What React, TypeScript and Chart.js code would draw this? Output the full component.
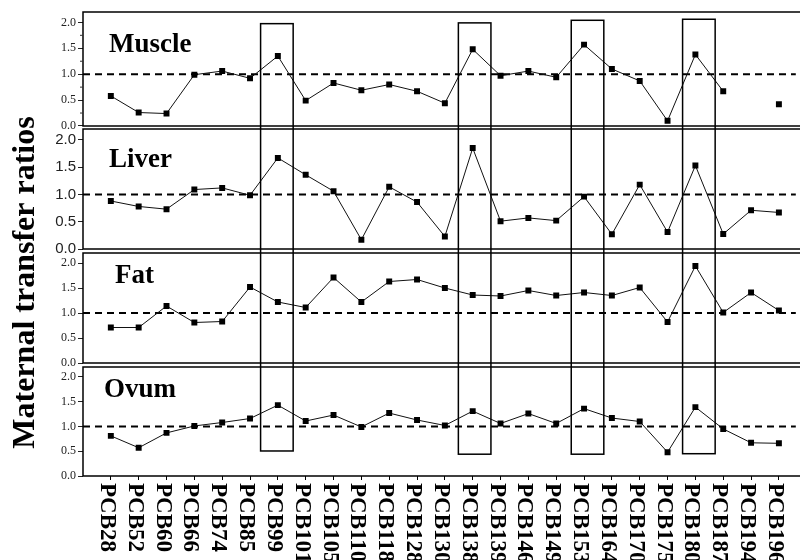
import React, { useEffect, useRef } from "react";
import { Chart, registerables } from "chart.js";

Chart.register(...registerables);

const categories = [
  "PCB28", "PCB52", "PCB60", "PCB66", "PCB74", "PCB85", "PCB99", "PCB101", "PCB105",
  "PCB110", "PCB118", "PCB128", "PCB130", "PCB138", "PCB139", "PCB146", "PCB149",
  "PCB153", "PCB164", "PCB170", "PCB175", "PCB180", "PCB187", "PCB194", "PCB196",
];

const muscle = [0.58, 0.26, 0.24, 0.99, 1.06, 0.92, 1.35, 0.49, 0.83, 0.69, 0.8, 0.67, 0.44, 1.48, 0.97, 1.06, 0.94, 1.57, 1.1, 0.87, 0.1, 1.38, 0.67, null, 0.42];
const liver = [0.88, 0.78, 0.73, 1.09, 1.12, 0.985, 1.67, 1.36, 1.06, 0.17, 1.14, 0.86, 0.23, 1.85, 0.51, 0.57, 0.52, 0.96, 0.27, 1.18, 0.31, 1.53, 0.275, 0.71, 0.67];
const fat = [0.71, 0.71, 1.14, 0.81, 0.83, 1.52, 1.22, 1.11, 1.71, 1.22, 1.63, 1.67, 1.5, 1.36, 1.34, 1.45, 1.35, 1.41, 1.35, 1.51, 0.82, 1.94, 1.01, 1.41, 1.05];
const ovum = [0.81, 0.57, 0.87, 1.01, 1.08, 1.16, 1.43, 1.11, 1.23, 0.99, 1.27, 1.13, 1.02, 1.31, 1.06, 1.26, 1.06, 1.36, 1.17, 1.1, 0.48, 1.39, 0.95, 0.67, 0.66];

const yTickValues = [0, 0.5, 1, 1.5, 2];
const muscleMinorTicks = [0.25, 0.75, 1.25, 1.75];
const referenceLevel = 1.0;

const highlighted = ["PCB99", "PCB138", "PCB153", "PCB180"];
const highlightShift = [-0.035, 0.07, 0.125, 0.125];
const highlightTop = [1.975, 1.99, 2.04, 2.06]; // Muscle units
const highlightBottom = [0.505, 0.44, 0.44, 0.45]; // Ovum units

const yTitle = "Maternal transfer ratios";

const SERIF = '"Liberation Serif", "Times New Roman", serif';
const SANS = '"Liberation Sans", Arial, sans-serif';

const panels = [
  { id: "yMuscle", label: "Muscle", values: muscle, min: -0.058, weight: 117, titleDx: 26, titleDy: 40, font: SERIF, size: 12 },
  { id: "yLiver", label: "Liver", values: liver, min: -0.0733, weight: 124, titleDx: 26, titleDy: 38, font: SANS, size: 15 },
  { id: "yFat", label: "Fat", values: fat, min: -0.08, weight: 114, titleDx: 32, titleDy: 30, font: SERIF, size: 12 },
  { id: "yOvum", label: "Ovum", values: ovum, min: 0, weight: 109, titleDx: 21, titleDy: 30, font: SERIF, size: 12 },
];

const decorPlugin = {
  id: "decor",
  afterDatasetsDraw(chart: any) {
    const ctx = chart.ctx as CanvasRenderingContext2D;
    const area = chart.chartArea;
    const xs = chart.scales.x;
    ctx.save();
    ctx.strokeStyle = "#000";
    ctx.lineWidth = 1.5;
    panels.forEach((p) => {
      const s = chart.scales[p.id];
      const top = s.getPixelForValue(2.2);
      const bot = s.getPixelForValue(0);
      ctx.beginPath();
      ctx.moveTo(area.right + 10, top);
      ctx.lineTo(area.left, top);
      ctx.lineTo(area.left, bot);
      ctx.lineTo(area.right + 10, bot);
      ctx.stroke();
      ctx.fillStyle = "#000";
      ctx.font = `bold 27px ${SERIF}`;
      ctx.textAlign = "left";
      ctx.textBaseline = "alphabetic";
      ctx.fillText(p.label, area.left + p.titleDx, top + p.titleDy);
    });
    // minor ticks on muscle
    const sm = chart.scales.yMuscle;
    ctx.lineWidth = 1;
    ctx.strokeStyle = "#333";
    muscleMinorTicks.forEach((v) => {
      const y = sm.getPixelForValue(v);
      ctx.beginPath();
      ctx.moveTo(area.left - 3, y);
      ctx.lineTo(area.left, y);
      ctx.stroke();
    });
    // highlight boxes
    const syTop = chart.scales.yMuscle;
    const syBot = chart.scales.yOvum;
    ctx.strokeStyle = "#000";
    ctx.lineWidth = 1.5;
    highlighted.forEach((name, k) => {
      const idx = categories.indexOf(name) + highlightShift[k];
      const x0 = xs.getPixelForValue(idx - 0.585);
      const x1 = xs.getPixelForValue(idx + 0.585);
      const y0 = syTop.getPixelForValue(highlightTop[k]);
      const y1 = syBot.getPixelForValue(highlightBottom[k]);
      ctx.strokeRect(x0, y0, x1 - x0, y1 - y0);
    });
    ctx.restore();
  },
  afterDraw(chart: any) {
    const ctx = chart.ctx as CanvasRenderingContext2D;
    const xs = chart.scales.x;
    ctx.save();
    ctx.fillStyle = "#000";
    // x labels rotated clockwise
    ctx.font = `bold 23px ${SERIF}`;
    ctx.textAlign = "left";
    ctx.textBaseline = "alphabetic";
    categories.forEach((c, i) => {
      const x = xs.getPixelForValue(i);
      ctx.save();
      ctx.translate(x - 10, xs.top + 7);
      ctx.rotate(Math.PI / 2);
      ctx.fillText(c, 0, 0);
      ctx.restore();
    });
    // y title
    ctx.font = `bold 32px ${SERIF}`;
    ctx.textAlign = "center";
    ctx.save();
    ctx.translate(34, 282.5);
    ctx.rotate(-Math.PI / 2);
    ctx.fillText(yTitle, 0, 0);
    ctx.restore();
    ctx.restore();
  },
};

export default function App() {
  const ref = useRef<HTMLCanvasElement | null>(null);
  useEffect(() => {
    if (!ref.current) return;
    const xMax = (800 - 83) / 28 - 1;
    const datasets: any[] = [];
    panels.forEach((p) => {
      datasets.push({
        label: p.label,
        data: p.values.map((v, i) => ({ x: i, y: v })),
        yAxisID: p.id,
        xAxisID: "x",
        borderColor: "#111",
        borderWidth: 1,
        backgroundColor: "#000",
        pointStyle: "rect",
        pointRadius: 4.2,
        pointBorderWidth: 0,
        pointBackgroundColor: "#000",
        spanGaps: false,
        tension: 0,
      });
      datasets.push({
        label: p.label + " ref",
        data: [
          { x: -1, y: referenceLevel },
          { x: 30, y: referenceLevel },
        ],
        yAxisID: p.id,
        xAxisID: "x",
        borderColor: "#000",
        borderWidth: 2,
        borderDash: [7, 5],
        pointRadius: 0,
        tension: 0,
      });
    });
    const scales: any = {
      x: {
        type: "linear",
        position: "bottom",
        min: -1,
        max: xMax,
        afterBuildTicks: (s: any) => {
          s.ticks = categories.map((_, i) => ({ value: i }));
        },
        afterFit: (s: any) => {
          s.height = 84;
        },
        ticks: { display: false, autoSkip: false },
        grid: { drawOnChartArea: false, drawTicks: true, tickLength: 4, color: "#000", lineWidth: 1 },
        border: { display: false },
      },
    };
    // define bottom-most first so Muscle ends up on top
    [...panels].reverse().forEach((p) => {
      scales[p.id] = {
        type: "linear",
        position: "left",
        stack: "panels",
        stackWeight: p.weight,
        min: p.min,
        max: 2.2,
        afterBuildTicks: (s: any) => {
          s.ticks = yTickValues.map((v) => ({ value: v }));
        },
        afterFit: (s: any) => {
          s.width = 40;
        },
        ticks: {
          autoSkip: false,
          padding: 2,
          color: "#222",
          font: { family: p.font, size: p.size },
          callback: (v: any) => Number(v).toFixed(1),
        },
        grid: { drawOnChartArea: false, drawTicks: true, tickLength: 5, color: "#222", lineWidth: 1 },
        border: { display: false },
      };
    });
    const chart = new Chart(ref.current, {
      type: "line",
      data: { datasets },
      options: {
        responsive: false,
        animation: false,
        devicePixelRatio: 1,
        layout: { padding: { left: 43, top: 12, right: 0, bottom: 0 } },
        plugins: { legend: { display: false }, tooltip: { enabled: false } },
        scales,
      },
      plugins: [decorPlugin],
    });
    return () => chart.destroy();
  }, []);
  return (
    <div style={{ position: "absolute", left: 0, top: 0, width: 800, height: 560, background: "#fff" }}>
      <canvas ref={ref} width={800} height={560} style={{ width: 800, height: 560 }} />
    </div>
  );
}
